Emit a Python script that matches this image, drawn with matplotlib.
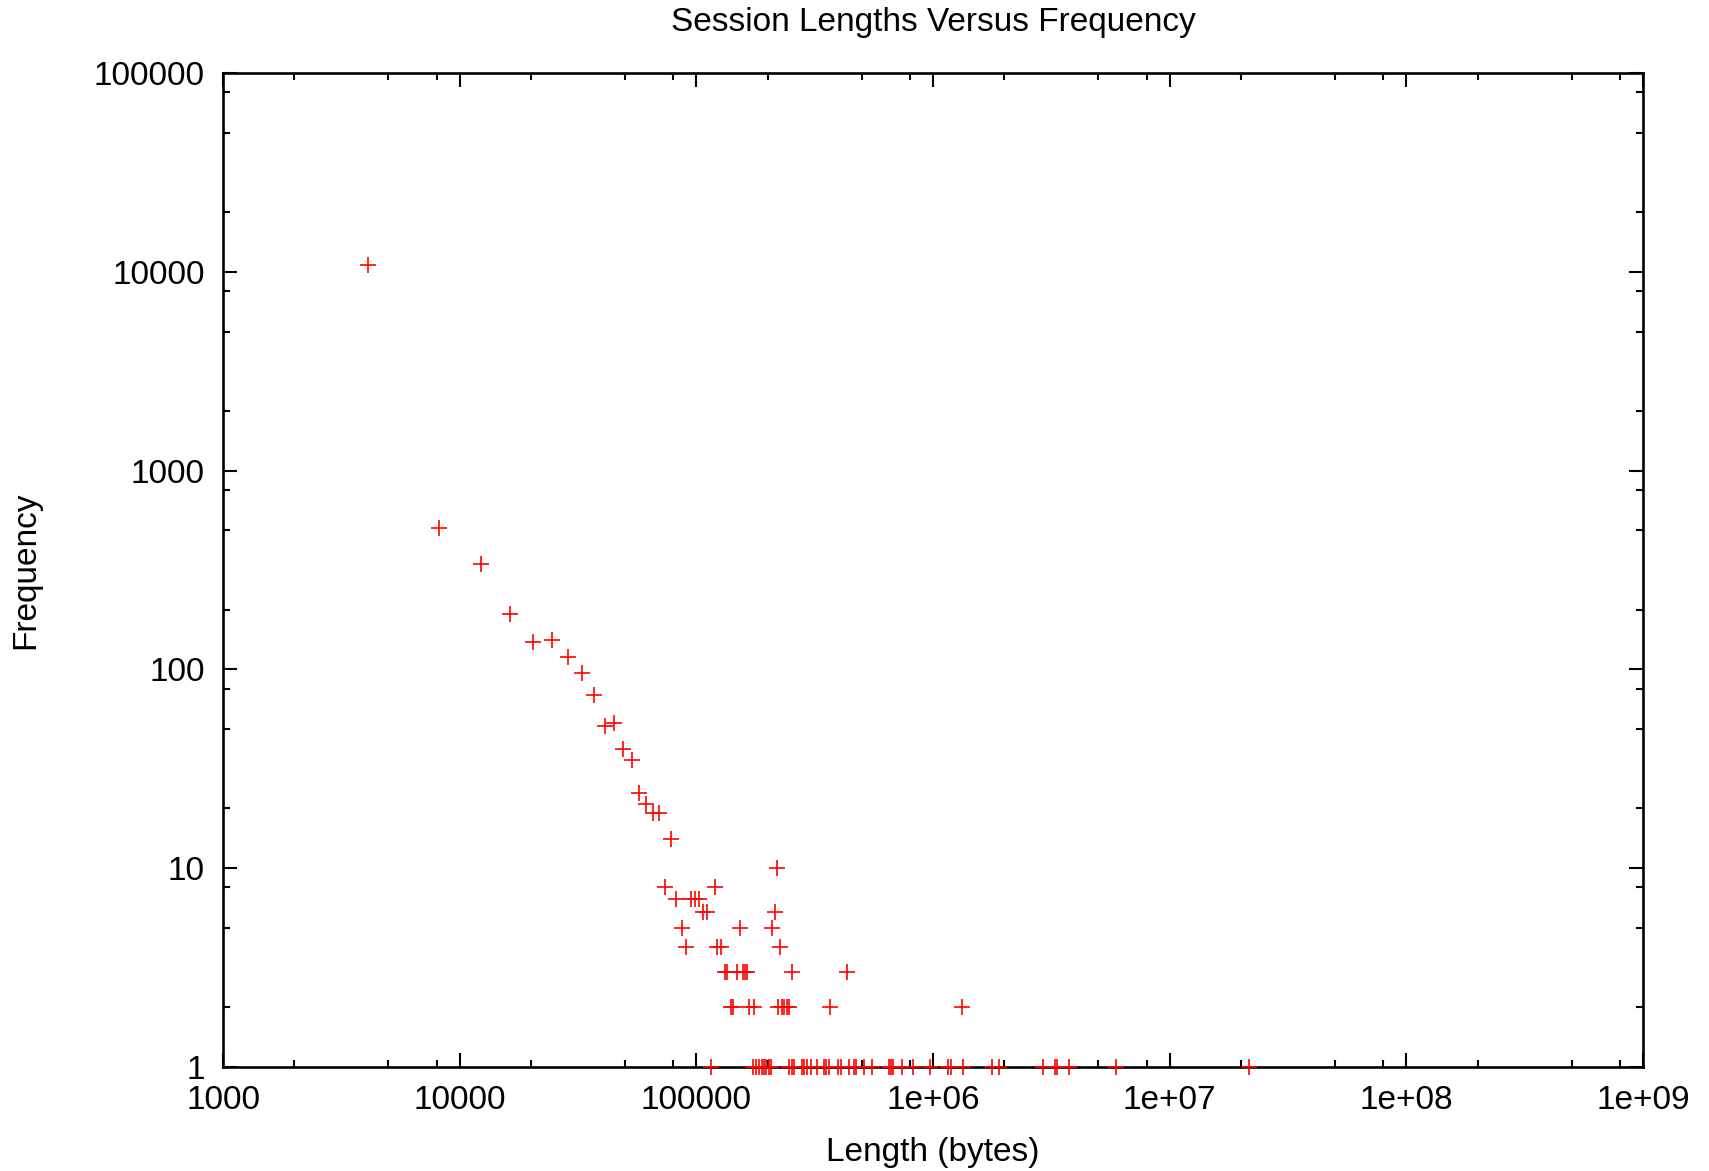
import matplotlib
matplotlib.use("Agg")
import matplotlib.pyplot as plt
from matplotlib.ticker import FixedLocator, LogLocator, NullFormatter

plt.rcParams['font.family'] = ['Liberation Sans', 'DejaVu Sans']

# session length (bytes) and how often it was seen
lengths = [4096, 8192, 12288, 16384, 20480, 24576, 28672, 32768, 36864, 40960,
           45056, 49152, 53248, 57344, 61440, 65536, 69632,
           73960, 119900,                       # 8
           82300, 94930, 98700, 102300,         # 7
           107000, 110600, 215000,              # 6
           86720, 152900, 209400,               # 5
           90440, 122600, 126500, 225700,       # 4
           78150,                               # 14
           218600,                              # 10
           132600, 135200, 148100, 157000, 160600, 164200, 253500, 434500,  # 3
           139700, 143300, 167400, 174900, 221400, 229000, 234700, 240400,
           247100, 368500, 1329000,             # 2
           115000, 173000, 178700, 184500, 189400, 192600, 197500, 202200,
           206200, 245600, 254400, 259400, 280300, 285900, 293400, 305100,
           323500, 347200, 354000, 362000, 398000, 408600, 441600, 465000,
           471300, 512400, 554000, 653600, 666400, 679500, 739600, 825400,
           971100, 1157000, 1195000, 1343000, 1781000, 1900000, 2924000,
           3277000, 3332000, 3765000, 5951000, 21700000]  # 1
freqs = [10800, 513, 339, 191, 137, 141, 116, 96, 74, 52,
         54, 40, 35, 24, 21, 19, 19,
         8, 8,
         7, 7, 7, 7,
         6, 6, 6,
         5, 5, 5,
         4, 4, 4, 4,
         14,
         10,
         3, 3, 3, 3, 3, 3, 3, 3,
         2, 2, 2, 2, 2, 2, 2, 2,
         2, 2, 2] + [1] * 44

x_ticks = [1e3, 1e4, 1e5, 1e6, 1e7, 1e8, 1e9]
x_labels = ['1000', '10000', '100000', '1e+06', '1e+07', '1e+08', '1e+09']
y_ticks = [1, 10, 100, 1000, 10000, 100000]
y_labels = ['1', '10', '100', '1000', '10000', '100000']

fig = plt.figure(figsize=(17.09, 11.71), dpi=100)
ax = fig.add_axes([0.1305, 0.0888, 0.8309, 0.8489])

ax.plot(lengths, freqs, linestyle='none', marker='+', color='#ff0000',
        markersize=11.5, markeredgewidth=1.2, clip_on=False, zorder=3)

ax.set_xscale('log')
ax.set_yscale('log')
ax.set_xlim(1e3, 1e9)
ax.set_ylim(1, 1e5)

ax.xaxis.set_major_locator(FixedLocator(x_ticks))
ax.set_xticklabels(x_labels)
ax.yaxis.set_major_locator(FixedLocator(y_ticks))
ax.set_yticklabels(y_labels)
ax.xaxis.set_minor_locator(LogLocator(base=10, subs=[2, 5, 8], numticks=20))
ax.yaxis.set_minor_locator(LogLocator(base=10, subs=[2, 5, 8], numticks=20))
ax.xaxis.set_minor_formatter(NullFormatter())
ax.yaxis.set_minor_formatter(NullFormatter())

ax.tick_params(which='both', direction='in', top=True, right=True,
               labelsize=24, width=1.5, color='black')
ax.tick_params(which='major', length=10, pad=13)
ax.tick_params(which='minor', length=5)
for s in ax.spines.values():
    s.set_linewidth(1.9)

ax.set_xlabel('Length (bytes)', fontsize=24, labelpad=15)
ax.set_ylabel('Frequency', fontsize=24, labelpad=38)
ax.set_title('Session Lengths Versus Frequency', fontsize=24, pad=30)

fig.savefig('out.png', dpi=100)
